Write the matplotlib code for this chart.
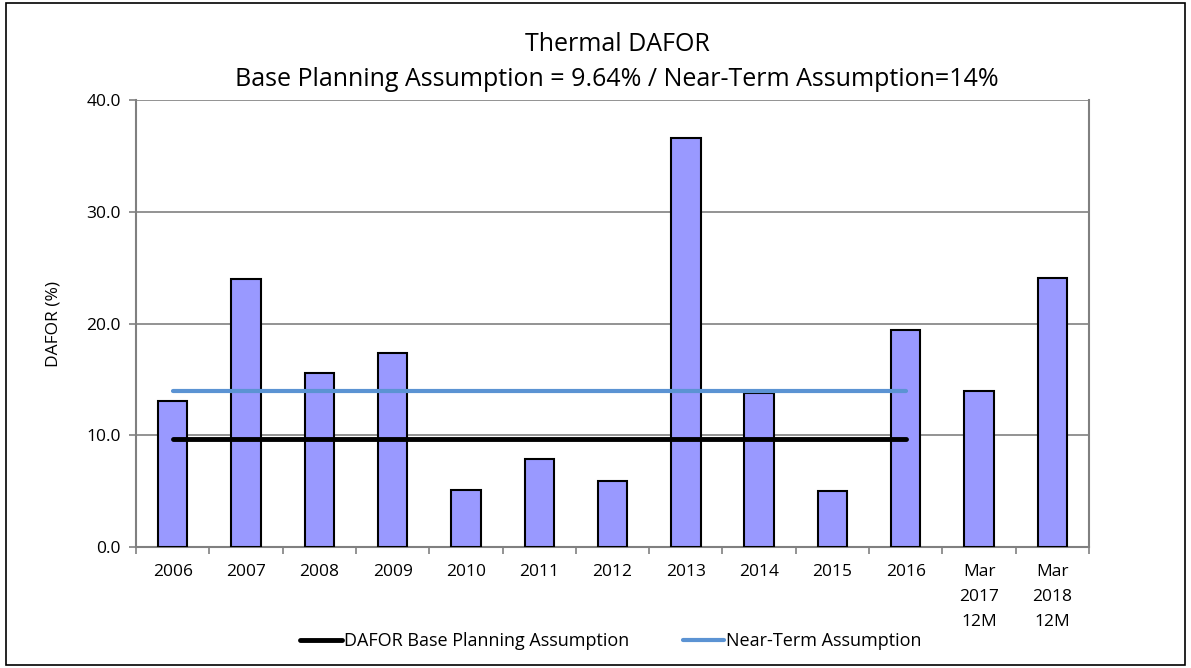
import matplotlib.pyplot as plt
from matplotlib.patches import Rectangle
import numpy as np

# data
categories = ["2006", "2007", "2008", "2009", "2010", "2011", "2012", "2013",
              "2014", "2015", "2016", "Mar\n2017\n12M", "Mar\n2018\n12M"]
dafor = [13.1, 24.0, 15.6, 17.4, 5.1, 7.9, 5.9, 36.6, 13.8, 5.0, 19.4, 14.0, 24.1]
base_assumption = 9.64
near_term = 14.0
n_line = 11  # lines run 2006..2016

plt.rcParams['font.family'] = ['Open Sans', 'DejaVu Sans']

fig = plt.figure(figsize=(11.91, 6.68), dpi=100)
ax = fig.add_axes([0.1142, 0.1811, 0.8002, 0.6692])

x = np.arange(len(categories))
ax.bar(x, dafor, width=0.4, color="#9999ff", edgecolor="black", linewidth=1.5, zorder=3)

xl = x[:n_line]
ax.plot(xl, [base_assumption] * n_line, color="black", linewidth=3.5,
        solid_capstyle="round", zorder=4, label="DAFOR Base Planning Assumption")
ax.plot(xl, [near_term] * n_line, color="#5b93d3", linewidth=3,
        solid_capstyle="round", zorder=4, label="Near-Term Assumption")

ax.set_xlim(-0.5, len(categories) - 0.5)
ax.set_ylim(0, 40)
ax.set_yticks([0, 10, 20, 30, 40])
ax.set_yticklabels([f"{v:.1f}" for v in [0, 10, 20, 30, 40]], fontsize=12.5)
ax.yaxis.grid(True, color="#808080", linewidth=1.2, zorder=0)

ax.set_xticks(x)
ax.set_xticklabels(categories, fontsize=12.5, linespacing=1.75, va="top")
ax.tick_params(axis="x", length=0, pad=12)
ax.set_xticks(np.arange(-0.5, len(categories), 1), minor=True)
ax.tick_params(axis="x", which="minor", length=5, color="#808080", width=1.2)
ax.tick_params(axis="y", length=5, color="#808080", width=1.2, pad=6)

for side in ["left", "bottom", "right"]:
    ax.spines[side].set_color("#808080")
    ax.spines[side].set_linewidth(1.5)
ax.spines["top"].set_visible(False)

ax.set_ylabel("DAFOR (%)", fontsize=12.5, labelpad=18)
fig.text(0.518, 0.934, "Thermal DAFOR", ha="center", va="center", fontsize=18)
fig.text(0.518, 0.881, "Base Planning Assumption = 9.64% / Near-Term Assumption=14%",
         ha="center", va="center", fontsize=18)

fig.legend(loc="center", bbox_to_anchor=(0.513, 0.04), ncol=2, frameon=False,
           fontsize=13, handlelength=2.3, handletextpad=0.1, columnspacing=3)

fig.patches.append(Rectangle((0.005, 0.005), 0.99, 0.99, transform=fig.transFigure,
                             fill=False, edgecolor="black", linewidth=1.2))

fig.savefig("out.png", dpi=100)
